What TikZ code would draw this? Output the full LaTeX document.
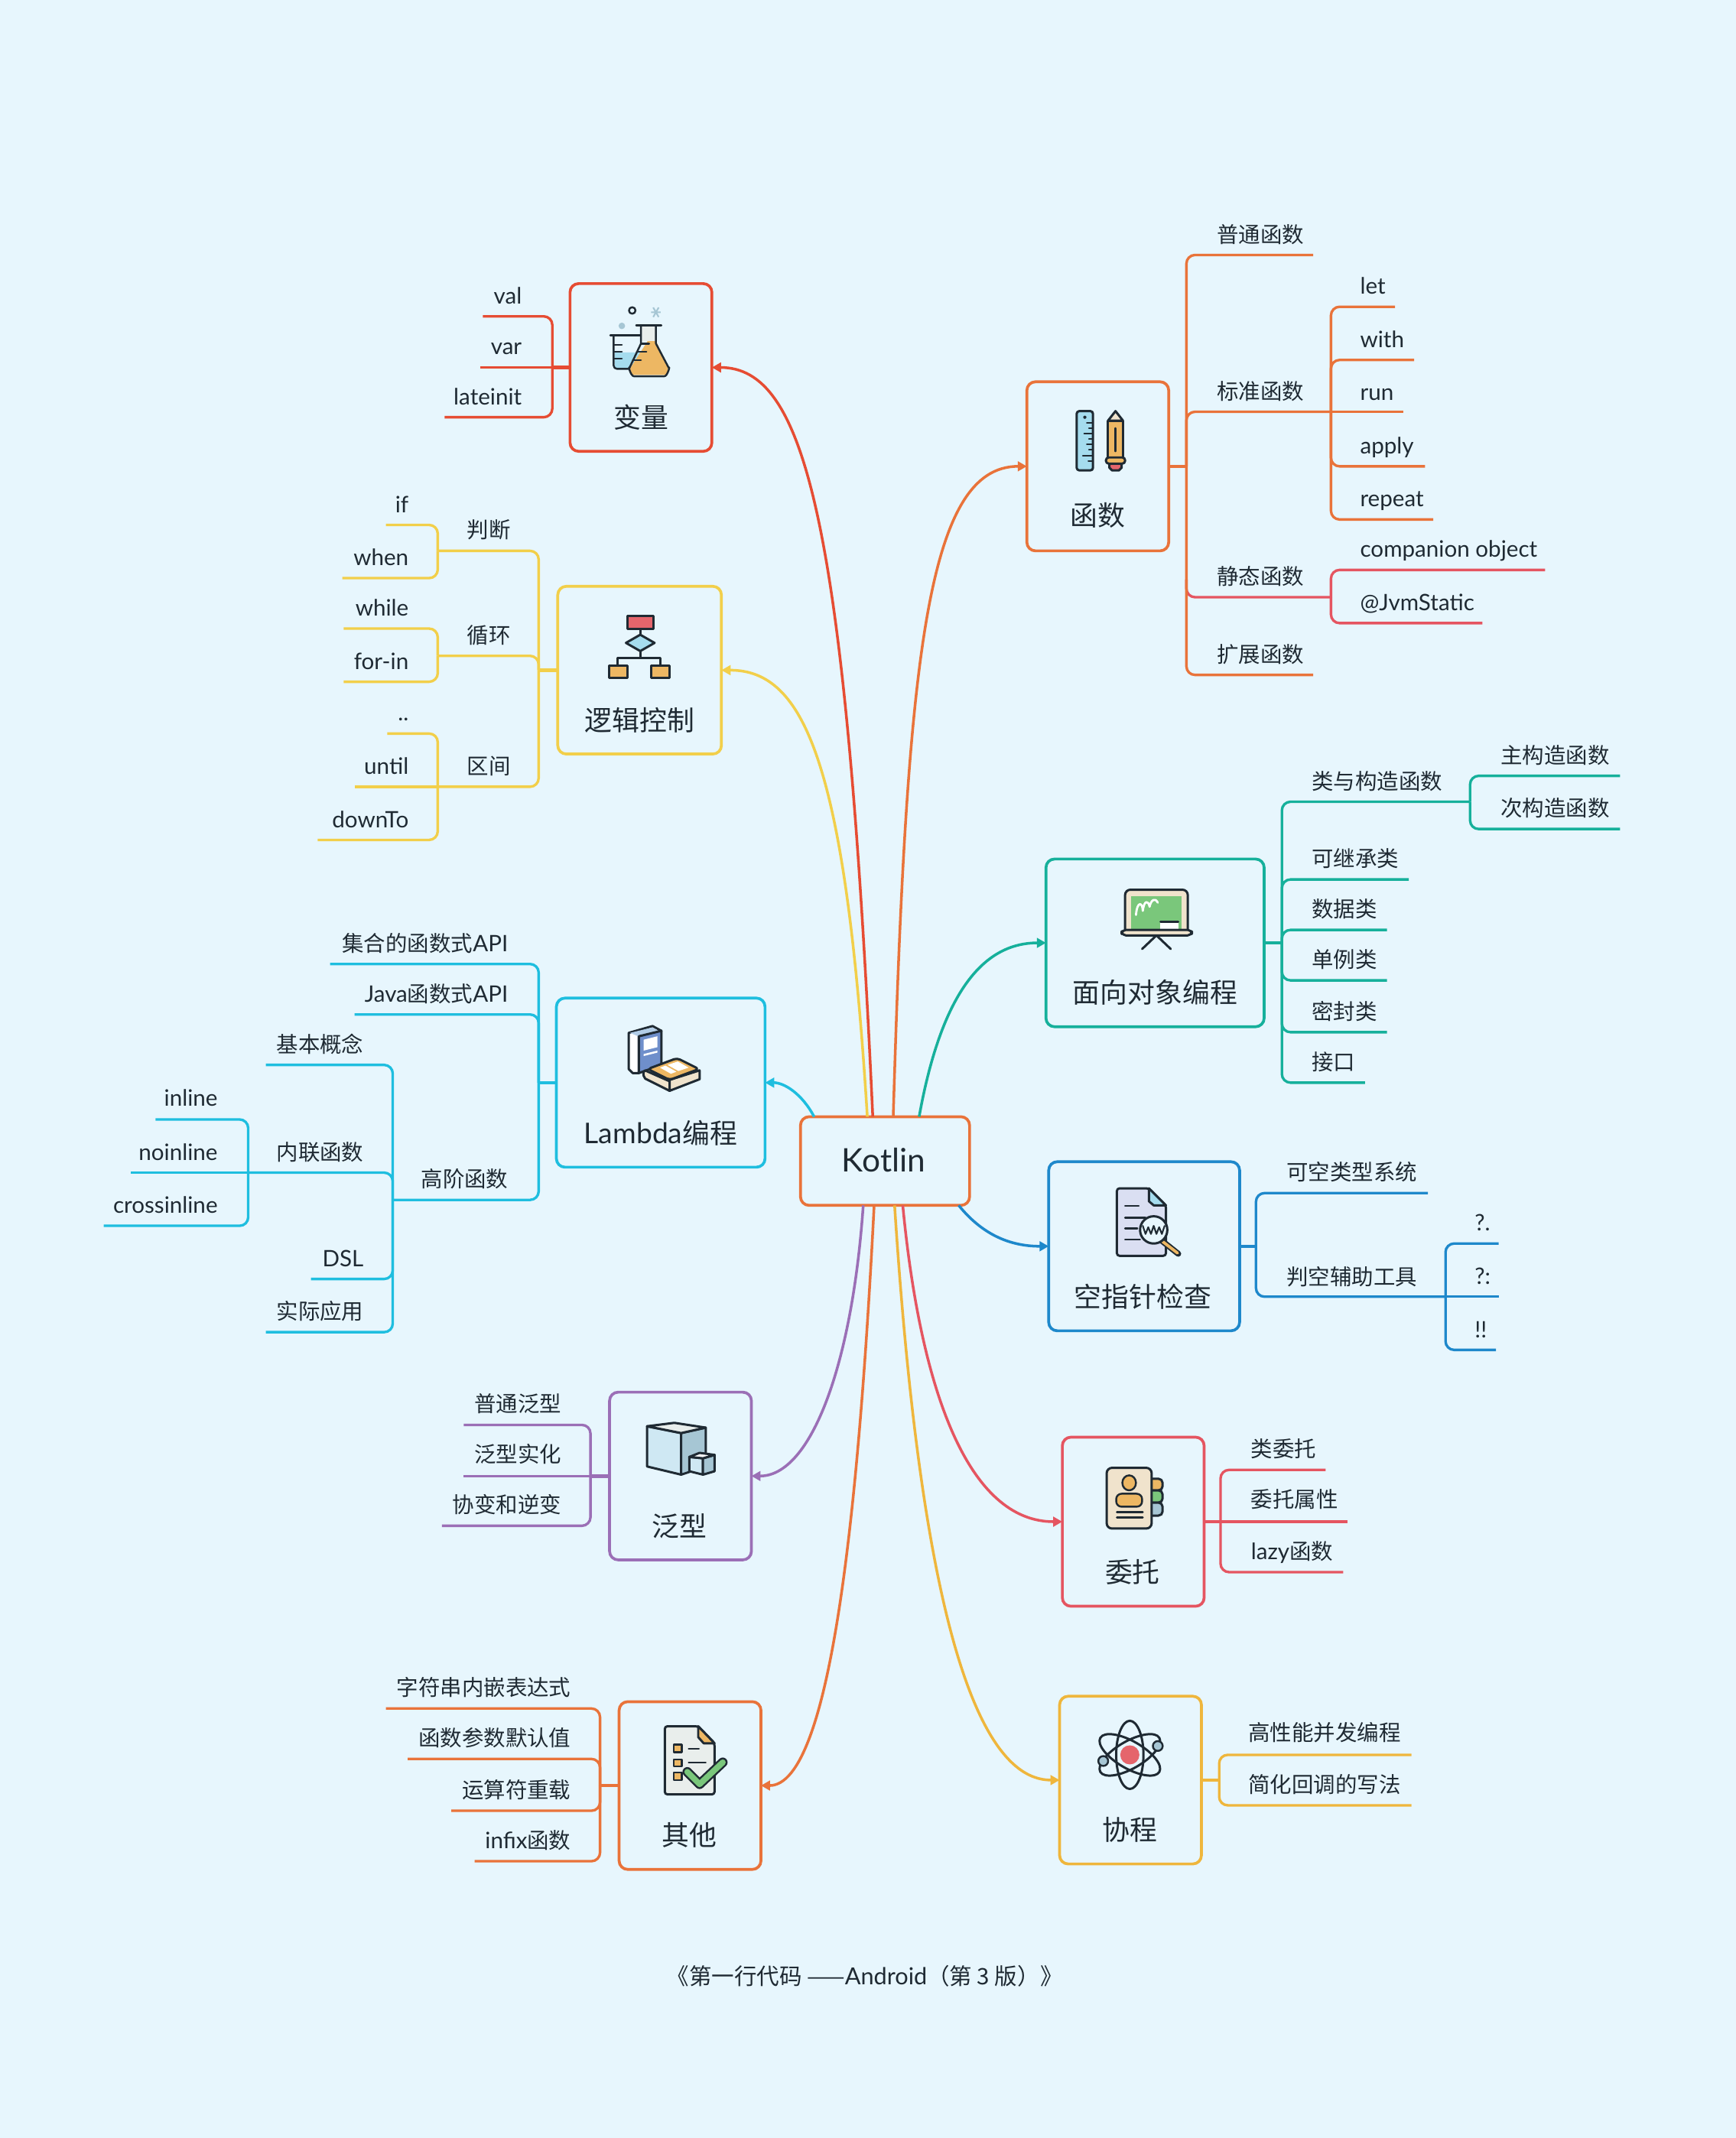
\documentclass[tikz,border=0pt]{standalone}
\usepackage{fontspec}
\setmainfont{Lato}[Scale=1.04]
\newfontfamily\cjk{Noto Sans CJK SC}
\usetikzlibrary{arrows.meta}
\newcommand{\zh}[1]{{\cjk #1}}
\newcommand{\unitpx}{0.50737pt}
\definecolor{bgblue}{HTML}{E7F6FD}
\definecolor{ink}{HTML}{1F2A33}
\definecolor{linered}{HTML}{E64C33}
\definecolor{lineorange}{HTML}{E9733A}
\definecolor{lineyellow}{HTML}{F2CF4A}
\definecolor{linecyan}{HTML}{1FBEDF}
\definecolor{linepurple}{HTML}{9B6FB6}
\definecolor{lineteal}{HTML}{16B09B}
\definecolor{lineblue}{HTML}{1E88CB}
\definecolor{linepink}{HTML}{E55561}
\definecolor{linegold}{HTML}{EFB63C}
\definecolor{iconblue}{HTML}{A5DCEE}
\definecolor{iconorange}{HTML}{EDB763}
\definecolor{iconred}{HTML}{E5656C}
\definecolor{icongreen}{HTML}{7AC77B}
\definecolor{icongrey}{HTML}{E9EEEC}
\definecolor{icontan}{HTML}{F0E3CC}
\definecolor{iconsteel}{HTML}{A6C6D4}
\definecolor{iconpaper}{HTML}{DADFF2}
\definecolor{iconnavy}{HTML}{6F8FCB}
\definecolor{iconpale}{HTML}{CFE8F3}
\tikzset{
    bigbox/.style={rectangle, rounded corners=3.2pt, line width=1.05pt, inner sep=0pt, outer sep=0pt},
    bigtitle/.style={inner sep=0pt, text=ink, font=\fontsize{10.2}{12}\selectfont},
    lefttext/.style={inner sep=0pt, anchor=base east, yshift=-0.4pt, text=ink, font=\fontsize{8.1}{10}\selectfont},
    righttext/.style={inner sep=0pt, anchor=base west, yshift=-0.4pt, text=ink, font=\fontsize{8.1}{10}\selectfont},
    branch/.style={line width=0.95pt, rounded corners=3.2pt},
    stub/.style={line width=1.3pt},
    curve/.style={line width=1pt, -{Triangle[length=3.4pt,width=3.6pt]}},
    icon/.style={draw=ink, line width=0.85pt, line join=round, line cap=round},
    iconthin/.style={draw=ink, line width=0.7pt, line join=round, line cap=round}
}
\begin{document}
\begin{tikzpicture}[x=\unitpx, y=-\unitpx]
    \useasboundingbox (0,0) rectangle (1273,1568);
    \fill[bgblue] (0,0) rectangle (1273,1568);
    % main boxes
    \node[bigbox, draw=lineorange, minimum width=124*\unitpx, minimum height=65*\unitpx] (kotlin) at (649,851.5) {};
    \node[bigbox, draw=linered, minimum width=104*\unitpx, minimum height=123*\unitpx] (bianliang) at (470,269.5) {};
    \node[bigbox, draw=lineyellow, minimum width=120*\unitpx, minimum height=123*\unitpx] (luoji) at (469,491.5) {};
    \node[bigbox, draw=linecyan, minimum width=153*\unitpx, minimum height=124*\unitpx] (lambda) at (484.5,794) {};
    \node[bigbox, draw=linepurple, minimum width=104*\unitpx, minimum height=123*\unitpx] (fanxing) at (499,1082.5) {};
    \node[bigbox, draw=lineorange, minimum width=104*\unitpx, minimum height=123*\unitpx] (qita) at (506,1309.5) {};
    \node[bigbox, draw=lineorange, minimum width=104*\unitpx, minimum height=124*\unitpx] (hanshu) at (805,342) {};
    \node[bigbox, draw=lineteal, minimum width=160*\unitpx, minimum height=123*\unitpx] (duixiang) at (847,691.5) {};
    \node[bigbox, draw=lineblue, minimum width=140*\unitpx, minimum height=124*\unitpx] (kongzhi) at (839,914) {};
    \node[bigbox, draw=linepink, minimum width=104*\unitpx, minimum height=124*\unitpx] (weituo) at (831,1116) {};
    \node[bigbox, draw=linegold, minimum width=104*\unitpx, minimum height=123*\unitpx] (xiecheng) at (829,1305.5) {};
    \node[inner sep=0pt, text=ink, font=\fontsize{11.6}{14}\selectfont] (kotlintext) at (648,850.5) {Kotlin};
    \node[bigtitle] (bianliangtext) at (470,306) {\zh{变量}};
    \node[bigtitle] (luojitext) at (469,528) {\zh{逻辑控制}};
    \node[bigtitle] (lambdatext) at (484.5,831) {Lambda\zh{编程}};
    \node[bigtitle] (fanxingtext) at (498,1119) {\zh{泛型}};
    \node[bigtitle] (qitatext) at (505.5,1346) {\zh{其他}};
    \node[bigtitle] (hanshutext) at (805,378) {\zh{函数}};
    \node[bigtitle] (duixiangtext) at (847,728) {\zh{面向对象编程}};
    \node[bigtitle] (kongzhitext) at (838,951) {\zh{空指针检查}};
    \node[bigtitle] (weituotext) at (830.5,1153) {\zh{委托}};
    \node[bigtitle] (xiechengtext) at (828.5,1342) {\zh{协程}};
    % curves out of the centre
    \coordinate (kred) at (640,819);
    \coordinate (kyellow) at (636,819);
    \coordinate (kcyan) at (597,819);
    \coordinate (korange) at (655,819);
    \coordinate (kteal) at (674,819);
    \coordinate (kblue) at (703,884);
    \coordinate (kpink) at (662,884);
    \coordinate (kgold) at (656,884);
    \coordinate (kother) at (641,884);
    \coordinate (kpurple) at (633,884);
    \draw[curve, linered] (kred) .. controls (620,380) and (590,269.5) .. (bianliang.east);
    \draw[curve, lineyellow] (kyellow) .. controls (620,560) and (590,491.5) .. (luoji.east);
    \draw[curve, linecyan] (kcyan) .. controls (588,802) and (575,794) .. (lambda.east);
    \draw[curve, lineorange] (korange) .. controls (665,480) and (680,342) .. (hanshu.west);
    \draw[curve, lineteal] (kteal) .. controls (690,730) and (720,691.5) .. (duixiang.west);
    \draw[curve, lineblue] (kblue) .. controls (720,905) and (740,914) .. (kongzhi.west);
    \draw[curve, linepink] (kpink) .. controls (675,1020) and (710,1116) .. (weituo.west);
    \draw[curve, linegold] (kgold) .. controls (670,1100) and (700,1305.5) .. (xiecheng.west);
    \draw[curve, lineorange] (kother) .. controls (630,1100) and (610,1309.5) .. (qita.east);
    \draw[curve, linepurple] (kpurple) .. controls (625,1000) and (595,1082.5) .. (fanxing.east);
    % variables
    \coordinate (trunkbl) at (405,269.5);
    \coordinate (endval) at (354,232);
    \coordinate (endvar) at (352,269.5);
    \coordinate (endlate) at (326,306);
    \draw[stub, linered] (bianliang.west) -- (trunkbl);
    \draw[branch, linered] (trunkbl) |- (endval);
    \draw[branch, linered] (trunkbl) -- (endvar);
    \draw[branch, linered] (trunkbl) |- (endlate);
    \node[lefttext] (val) at (383,222) {val};
    \node[lefttext] (var) at (383,259) {var};
    \node[lefttext] (late) at (383,296) {lateinit};
    % control flow
    \coordinate (trunklj) at (395,491.5);
    \coordinate (trunkpd) at (321,404);
    \coordinate (trunkxh) at (321,481);
    \coordinate (trunkqj) at (321,577);
    \draw[stub, lineyellow] (luoji.west) -- (trunklj);
    \draw[branch, lineyellow] (trunklj) |- (trunkpd);
    \draw[branch, lineyellow] (trunklj) |- (trunkxh);
    \draw[branch, lineyellow] (trunklj) |- (trunkqj);
    \node[righttext] (panduan) at (342,394) {\zh{判断}};
    \node[righttext] (xunhuan) at (342,471) {\zh{循环}};
    \node[righttext] (qujian) at (342,567) {\zh{区间}};
    \coordinate (endif) at (283,385);
    \coordinate (endwhen) at (251,424);
    \coordinate (endwhile) at (252,461);
    \coordinate (endfor) at (252,500);
    \coordinate (enddots) at (284,538);
    \coordinate (enduntil) at (260,577);
    \coordinate (enddown) at (233,616);
    \draw[branch, lineyellow] (trunkpd) |- (endif);
    \draw[branch, lineyellow] (trunkpd) |- (endwhen);
    \draw[branch, lineyellow] (trunkxh) |- (endwhile);
    \draw[branch, lineyellow] (trunkxh) |- (endfor);
    \draw[branch, lineyellow] (trunkqj) |- (enddots);
    \draw[branch, lineyellow] (trunkqj) -- (enduntil);
    \draw[branch, lineyellow] (trunkqj) |- (enddown);
    \node[lefttext] (if) at (300,375) {if};
    \node[lefttext] (when) at (300,414) {when};
    \node[lefttext] (while) at (300,451) {while};
    \node[lefttext] (forin) at (300,490) {for-in};
    \node[lefttext] (dots) at (300,528) {..};
    \node[lefttext] (until) at (300,567) {until};
    \node[lefttext] (downto) at (300,606) {downTo};
    % lambda
    \coordinate (trunkld) at (395,794);
    \coordinate (endapi) at (242,707);
    \coordinate (endjava) at (260,744);
    \coordinate (trunkgj) at (288,880);
    \draw[stub, linecyan] (lambda.west) -- (trunkld);
    \draw[branch, linecyan] (trunkld) |- (endapi);
    \draw[branch, linecyan] (trunkld) |- (endjava);
    \draw[branch, linecyan] (trunkld) |- (trunkgj);
    \node[lefttext] (jihe) at (373,697) {\zh{集合的函数式}API};
    \node[lefttext] (javaapi) at (373,734) {Java\zh{函数式}API};
    \node[lefttext] (gaojie) at (373,870) {\zh{高阶函数}};
    \coordinate (endjb) at (195,781);
    \coordinate (trunknl) at (182,860);
    \coordinate (enddsl) at (228,938);
    \coordinate (endsy) at (195,977);
    \draw[branch, linecyan] (trunkgj) |- (endjb);
    \draw[branch, linecyan] (trunkgj) |- (trunknl);
    \draw[branch, linecyan] (trunkgj) |- (enddsl);
    \draw[branch, linecyan] (trunkgj) |- (endsy);
    \node[lefttext] (jiben) at (267,771) {\zh{基本概念}};
    \node[lefttext] (neilian) at (267,850) {\zh{内联函数}};
    \node[lefttext] (dsl) at (267,928) {DSL};
    \node[lefttext] (shiji) at (267,967) {\zh{实际应用}};
    \coordinate (endin) at (114,821);
    \coordinate (endnoin) at (96,860);
    \coordinate (endcross) at (76,899);
    \draw[branch, linecyan] (trunknl) |- (endin);
    \draw[branch, linecyan] (trunknl) -- (endnoin);
    \draw[branch, linecyan] (trunknl) |- (endcross);
    \node[lefttext] (inline) at (160,810.5) {inline};
    \node[lefttext] (noinline) at (160,850) {noinline};
    \node[lefttext] (crossinline) at (160,889) {crossinline};
    % generics
    \coordinate (trunkfx) at (433,1082.5);
    \coordinate (endpt) at (340,1045);
    \coordinate (endsh) at (340,1082.5);
    \coordinate (endxb) at (324,1119);
    \draw[stub, linepurple] (fanxing.west) -- (trunkfx);
    \draw[branch, linepurple] (trunkfx) |- (endpt);
    \draw[branch, linepurple] (trunkfx) -- (endsh);
    \draw[branch, linepurple] (trunkfx) |- (endxb);
    \node[lefttext] (putong) at (412,1035) {\zh{普通泛型}};
    \node[lefttext] (shihua) at (412,1072) {\zh{泛型实化}};
    \node[lefttext] (xiebian) at (412,1109) {\zh{协变和逆变}};
    % others
    \coordinate (trunkqt) at (440,1309.5);
    \coordinate (endzf) at (283,1253);
    \coordinate (endcs) at (299,1290);
    \coordinate (endys) at (331,1328);
    \coordinate (endinfix) at (348,1365);
    \draw[stub, lineorange] (qita.west) -- (trunkqt);
    \draw[branch, lineorange] (trunkqt) |- (endzf);
    \draw[branch, lineorange] (trunkqt) |- (endcs);
    \draw[branch, lineorange] (trunkqt) |- (endys);
    \draw[branch, lineorange] (trunkqt) |- (endinfix);
    \node[lefttext] (zifu) at (419,1243) {\zh{字符串内嵌表达式}};
    \node[lefttext] (canshu) at (419,1280) {\zh{函数参数默认值}};
    \node[lefttext] (yunsuan) at (419,1318) {\zh{运算符重载}};
    \node[lefttext] (infix) at (419,1355) {infix\zh{函数}};
    % functions
    \coordinate (trunkhs) at (870,342);
    \coordinate (turnjt) at (870,425);
    \coordinate (endpthan) at (963,187);
    \coordinate (trunkbz) at (976,302);
    \coordinate (trunkjt) at (976,438);
    \coordinate (endkz) at (963,495);
    \draw[branch, linepink] (turnjt) |- (trunkjt);
    \draw[stub, lineorange] (hanshu.east) -- (trunkhs);
    \draw[branch, lineorange] (trunkhs) |- (endpthan);
    \draw[branch, lineorange] (trunkhs) |- (trunkbz);
    \draw[branch, lineorange] (trunkhs) |- (endkz);
    \node[righttext] (pthan) at (892,177) {\zh{普通函数}};
    \node[righttext] (bzhan) at (892,292.5) {\zh{标准函数}};
    \node[righttext] (jthan) at (892,428) {\zh{静态函数}};
    \node[righttext] (kzhan) at (892,485) {\zh{扩展函数}};
    \coordinate (endlet) at (1023,225);
    \coordinate (endwith) at (1037,264);
    \coordinate (endrun) at (1029,302);
    \coordinate (endapply) at (1045,342);
    \coordinate (endrepeat) at (1051,381);
    \draw[branch, lineorange] (trunkbz) |- (endlet);
    \draw[branch, lineorange] (trunkbz) |- (endwith);
    \draw[branch, lineorange] (trunkbz) -- (endrun);
    \draw[branch, lineorange] (trunkbz) |- (endapply);
    \draw[branch, lineorange] (trunkbz) |- (endrepeat);
    \node[righttext] (let) at (997,215) {let};
    \node[righttext] (with) at (997,254) {with};
    \node[righttext] (run) at (997,293) {run};
    \node[righttext] (apply) at (997,332) {apply};
    \node[righttext] (repeat) at (997,371) {repeat};
    \coordinate (endcomp) at (1133,418);
    \coordinate (endjvm) at (1087,457);
    \draw[branch, linepink] (trunkjt) |- (endcomp);
    \draw[branch, linepink] (trunkjt) |- (endjvm);
    \node[righttext] (comp) at (997,408) {companion object};
    \node[righttext] (jvm) at (997,447) {@JvmStatic};
    % object oriented
    \coordinate (trunkdx) at (940,691.5);
    \coordinate (trunklei) at (1078,588);
    \coordinate (endjc) at (1033,645);
    \coordinate (endsj) at (1017,682);
    \coordinate (enddl) at (1017,719);
    \coordinate (endmf) at (1017,757);
    \coordinate (endjk) at (1001,794);
    \draw[stub, lineteal] (duixiang.east) -- (trunkdx);
    \draw[branch, lineteal] (trunkdx) |- (trunklei);
    \draw[branch, lineteal] (trunkdx) |- (endjc);
    \draw[branch, lineteal] (trunkdx) |- (endsj);
    \draw[branch, lineteal] (trunkdx) |- (enddl);
    \draw[branch, lineteal] (trunkdx) |- (endmf);
    \draw[branch, lineteal] (trunkdx) |- (endjk);
    \node[righttext] (leiyu) at (961.5,578) {\zh{类与构造函数}};
    \node[righttext] (jicheng) at (961.5,635) {\zh{可继承类}};
    \node[righttext] (shuju) at (961.5,672) {\zh{数据类}};
    \node[righttext] (danli) at (961.5,709) {\zh{单例类}};
    \node[righttext] (mifeng) at (961.5,747) {\zh{密封类}};
    \node[righttext] (jiekou) at (961.5,784) {\zh{接口}};
    \coordinate (endzhu) at (1188,569);
    \coordinate (endci) at (1188,608);
    \draw[branch, lineteal] (trunklei) |- (endzhu);
    \draw[branch, lineteal] (trunklei) |- (endci);
    \node[righttext] (zhugz) at (1100,559) {\zh{主构造函数}};
    \node[righttext] (cigz) at (1100,598) {\zh{次构造函数}};
    % null safety
    \coordinate (trunkkz) at (921,914);
    \coordinate (endkk) at (1047,875);
    \coordinate (trunkpk) at (1060,951);
    \draw[stub, lineblue] (kongzhi.east) -- (trunkkz);
    \draw[branch, lineblue] (trunkkz) |- (endkk);
    \draw[branch, lineblue] (trunkkz) |- (trunkpk);
    \node[righttext] (kekong) at (943,865) {\zh{可空类型系统}};
    \node[righttext] (pankong) at (943,941.5) {\zh{判空辅助工具}};
    \coordinate (enddotq) at (1099,912);
    \coordinate (endelvis) at (1099,951);
    \coordinate (endbang) at (1097,990);
    \draw[branch, lineblue] (trunkpk) |- (enddotq);
    \draw[branch, lineblue] (trunkpk) -- (endelvis);
    \draw[branch, lineblue] (trunkpk) |- (endbang);
    \node[righttext] (dotq) at (1081,902) {?.};
    \node[righttext] (elvis) at (1081,941) {?:};
    \node[righttext] (bang) at (1081,980.5) {!!};
    % delegation
    \coordinate (trunkwt) at (895,1116);
    \coordinate (endlwt) at (972,1078);
    \coordinate (endwtsx) at (988,1116);
    \coordinate (endlazy) at (985,1153);
    \draw[stub, linepink] (weituo.east) -- (trunkwt);
    \draw[branch, linepink] (trunkwt) |- (endlwt);
    \draw[branch, linepink] (trunkwt) -- (endwtsx);
    \draw[branch, linepink] (trunkwt) |- (endlazy);
    \node[righttext] (leiwt) at (917,1068) {\zh{类委托}};
    \node[righttext] (wtsx) at (917,1105) {\zh{委托属性}};
    \node[righttext] (lazy) at (917,1143) {lazy\zh{函数}};
    % coroutines
    \coordinate (trunkxc) at (894,1305.5);
    \coordinate (endgx) at (1035,1287);
    \coordinate (endjh) at (1035,1324);
    \draw[stub, linegold] (xiecheng.east) -- (trunkxc);
    \draw[branch, linegold] (trunkxc) |- (endgx);
    \draw[branch, linegold] (trunkxc) |- (endjh);
    \node[righttext] (gaoxn) at (915,1276) {\zh{高性能并发编程}};
    \node[righttext] (jianhua) at (915,1314) {\zh{简化回调的写法}};
    % footer
    \node[inner sep=0pt, text=ink, font=\fontsize{8.4}{10}\selectfont] (footer) at (634,1449) {\zh{《第一行代码 ——}Android\zh{（第 3 版）》}};
    % icon: flasks
    \fill[iconblue] (451,258.5) -- (470,258.5) -- (466,270) -- (451,270) -- cycle;
    \draw[iconthin] (447.5,246) -- (470,246);
    \draw[iconthin, rounded corners=1.2pt] (450,246) -- (450,270.5) -- (463,270.5);
    \draw[iconthin] (450,253) -- (456,253);
    \draw[iconthin] (450,258) -- (456,258);
    \draw[iconthin] (450,263) -- (456,263);
    \fill[iconorange] (475,250) -- (481,250) -- (490,269) -- (489,275) -- (463,275) -- (461.5,271) -- cycle;
    \fill[icongrey] (470.5,239) rectangle (481,250);
    \draw[iconthin] (466.5,238.5) -- (485,238.5);
    \draw[iconthin] (470,238.5) -- (470,252) -- (461.5,270) to[out=110,in=180] (465,276) -- (487,276) to[out=0,in=70] (490.5,270) -- (481,252) -- (481,238.5);
    \draw[iconthin] (470,252) -- (476,252);
    \draw[iconthin] (467,258) -- (474,258);
    \draw[iconthin] (464,264) -- (470,264);
    \draw[iconthin] (463.6,227.7) circle (2.4);
    \fill[iconsteel] (456,239) circle (2.4);
    \draw[iconsteel, line width=0.6pt] (477.5,229) -- (484.5,229) (479,225.5) -- (483,232.5) (483,225.5) -- (479,232.5);
    % icon: flow chart
    \draw[icon] (469.5,461) -- (469.5,465.5) (469.5,477.5) -- (469.5,482.5) (453,488) -- (453,482.5) -- (484,482.5) -- (484,488);
    \draw[icon, fill=iconred] (460,451.5) rectangle (479,461);
    \draw[icon, fill=iconblue] (459,471.5) -- (469.5,465.5) -- (480,471.5) -- (469.5,477.5) -- cycle;
    \draw[icon, fill=iconorange] (446.5,488) rectangle (460,497);
    \draw[icon, fill=iconorange] (477.5,488) rectangle (491,497);
    % icon: ruler and pencil
    \draw[icon, fill=iconblue, rounded corners=1pt] (789.5,301.5) rectangle (801.5,345);
    \fill[ink] (795.5,306) circle (1.2);
    \draw[iconthin, line width=0.55pt] (801,310) -- (797,310) (801,314) -- (798.5,314) (801,318) -- (795,318) (801,322) -- (798.5,322) (801,326) -- (797,326) (801,330) -- (798.5,330) (801,334) -- (794,334) (801,338) -- (798,338);
    \draw[icon, fill=iconorange] (812.5,308.5) -- (823.5,308.5) -- (823.5,336) -- (812.5,336) -- cycle;
    \draw[icon, fill=icontan] (812.5,308.5) -- (818,301.5) -- (823.5,308.5) -- cycle;
    \draw[iconthin] (818,314) -- (818,331);
    \draw[icon, fill=iconred] (813.5,339.5) -- (822.5,339.5) -- (822.5,343) -- (820.5,345) -- (815.5,345) -- (813.5,343) -- cycle;
    \draw[icon, fill=iconorange, rounded corners=1pt] (811,335.5) rectangle (825,340);
    % icon: blackboard
    \draw[icon, fill=icontan, rounded corners=2pt] (825,682) -- (825,652.5) -- (871,652.5) -- (871,682);
    \fill[icongreen] (829.5,657) rectangle (866.5,682);
    \draw[white, line width=0.8pt, line cap=round, line join=round] (833,671) .. controls (834,660) and (838,662) .. (838,668) .. controls (839,660) and (842,660) .. (843,665) .. controls (844,660) and (847,658) .. (849,662);
    \fill[white] (850.5,676) rectangle (864,682);
    \draw[icon] (851,676) -- (864,676);
    \draw[icon] (848,686) -- (837.5,696) (848,686) -- (858.5,696);
    \draw[icon, fill=icontan, rounded corners=1.5pt] (822.5,682) rectangle (874,686);
    % icon: web document
    \draw[icon, fill=iconpaper, rounded corners=1pt] (819,871.5) -- (842.5,871.5) -- (855,884) -- (855,921) -- (819,921) -- cycle;
    \draw[icon, fill=iconblue] (842.5,871.5) -- (855,884) -- (846,884) -- (842.5,881) -- cycle;
    \draw[iconthin] (825,884.5) -- (835,884.5) (825,893) -- (840,893) (825,901) -- (834,901) (825,909) -- (836,909);
    \draw[line width=2.2pt, ink, line cap=round] (852,910) -- (864,919.5);
    \draw[line width=1.1pt, iconorange, line cap=round] (852.5,910.5) -- (863.5,919);
    \draw[icon, fill=bgblue] (846,902) circle (10);
    \draw[iconthin, line width=0.6pt] (838,899) -- (840,905) -- (842,900) -- (844,905) -- (846,899) -- (848,905) -- (850,900) -- (852,905) -- (854,899);
    % icon: books
    \draw[icon, fill=white] (461,757.5) -- (478.5,752.5) -- (485,756) -- (468.5,760) -- (468.5,787) -- (464,787) -- (461,784) -- cycle;
    \fill[iconpale!70!iconnavy] (462,757.5) -- (478.5,753.5) -- (483,756) -- (468,760) -- cycle;
    \draw[icon, fill=iconnavy] (468.5,760) -- (485,756) -- (485,781) -- (468.5,787) -- cycle;
    \fill[white] (472,762.5) -- (482,760) -- (482,768) -- (472,770.5) -- cycle;
    \fill[white] (472,773) -- (482,770.5) -- (482,772) -- (472,774.5) -- cycle;
    \draw[icon, fill=icontan] (473,785) -- (491,793) -- (491,800) -- (475,792) to[out=180,in=200] (473,785);
    \draw[icon, fill=icontan] (491,792) -- (513,785) -- (513,791.5) -- (491,800) -- cycle;
    \draw[icon, fill=iconorange, rounded corners=1.2pt] (475,784) -- (496.5,776) -- (512.5,784) -- (491,792) -- cycle;
    \fill[white] (484,783) -- (488,781.5) -- (496,786) -- (492,787.5) -- cycle;
    \fill[white] (489.5,781) -- (497,778.5) -- (505,783) -- (497.5,785.5) -- cycle;
    % icon: cubes
    \draw[icon, fill=iconpale] (474.5,1046) -- (499.5,1051) -- (499.5,1081.5) -- (474.5,1075.5) -- cycle;
    \draw[icon, fill=iconsteel] (499.5,1051) -- (517.5,1047) -- (517.5,1075.5) -- (499.5,1081.5) -- cycle;
    \draw[icon, fill=icongrey] (474.5,1046) -- (494.5,1043.5) -- (517.5,1047) -- (499.5,1051) -- cycle;
    \draw[icon, fill=iconpale] (505.5,1068.5) -- (515.5,1069.5) -- (515.5,1081.5) -- (505.5,1079) -- cycle;
    \draw[icon, fill=iconsteel] (515.5,1069.5) -- (524,1067) -- (524,1079) -- (515.5,1081.5) -- cycle;
    \draw[icon, fill=white] (505.5,1068.5) -- (513,1065.5) -- (524,1067) -- (515.5,1069.5) -- cycle;
    % icon: contact card
    \draw[icon, fill=iconorange, rounded corners=1.5pt] (840,1084.5) rectangle (852.5,1093);
    \draw[icon, fill=icongreen, rounded corners=1.5pt] (840,1093) rectangle (852.5,1102);
    \draw[icon, fill=iconsteel, rounded corners=1.5pt] (840,1102) rectangle (852.5,1111.5);
    \draw[icon, fill=icontan, rounded corners=2pt] (811.5,1076.5) rectangle (844.5,1121);
    \draw[iconthin, fill=iconorange] (828,1087.5) ellipse (5 and 5.5);
    \draw[iconthin, fill=iconorange, rounded corners=2pt] (818.5,1105) -- (818.5,1095.5) -- (837.5,1095.5) -- (837.5,1105) -- cycle;
    \draw[iconthin] (819,1109) -- (838,1109) (819,1113) -- (838,1113);
    % icon: atom
    \draw[icon] (828.5,1287) ellipse (10 and 25);
    \draw[icon, rotate around={60:(828.5,1287)}] (828.5,1287) ellipse (10 and 25);
    \draw[icon, rotate around={-60:(828.5,1287)}] (828.5,1287) ellipse (10 and 25);
    \fill[iconred] (828.5,1287) circle (7);
    \draw[iconthin, fill=iconsteel] (849,1280.5) circle (3.6);
    \draw[iconthin, fill=iconsteel] (809,1291.5) circle (3.6);
    % icon: checklist
    \draw[icon, fill=icongrey, rounded corners=1pt] (487.5,1266) -- (512,1266) -- (524,1278.5) -- (524,1316) -- (487.5,1316) -- cycle;
    \draw[icon, fill=iconorange] (512,1266) -- (524,1278.5) -- (516,1278.5) -- (512,1274) -- cycle;
    \draw[iconthin, fill=iconorange] (494,1279.5) rectangle (500,1285);
    \draw[iconthin, fill=iconorange] (494,1290.5) rectangle (500,1295.5);
    \draw[iconthin, fill=iconorange] (494,1300) rectangle (500,1305.5);
    \draw[iconthin] (505,1282.5) -- (512.5,1282.5) (505,1292.5) -- (517.5,1292.5);
    \draw[ink, line width=3.6pt, line cap=round, line join=round] (504,1299.5) -- (513,1308.5) -- (530,1292.5);
    \draw[icongreen, line width=2.2pt, line cap=round, line join=round] (504,1299.5) -- (513,1308.5) -- (530,1292.5);
\end{tikzpicture}
\end{document}
